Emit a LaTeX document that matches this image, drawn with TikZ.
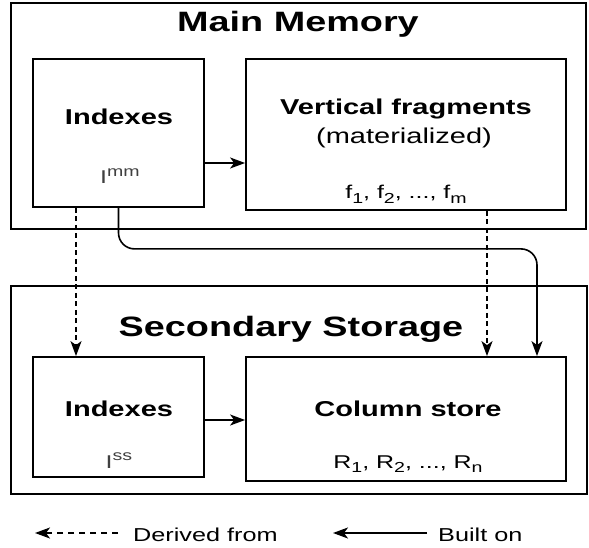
\documentclass[tikz,border=0pt]{standalone}
\usepackage{fontspec}
\setmainfont[FakeStretch=1.35]{Liberation Sans}
\usetikzlibrary{arrows.meta}

% sub- and superscripts set in the text font
\newcommand{\lowtxt}[1]{\raisebox{-0.22em}{\fontsize{14.5}{16}\selectfont #1}}
\newcommand{\hightxt}[1]{\raisebox{0.42em}{\fontsize{14.5}{16}\selectfont #1}}

\tikzset{
  region/.style={draw, line width=1.8pt, inner sep=0pt},
  box/.style={draw, line width=1.8pt, inner sep=0pt},
  title/.style={font=\bfseries\fontsize{28}{32}\selectfont, anchor=base, inner sep=0pt},
  label/.style={font=\bfseries\fontsize{21.5}{25}\selectfont, anchor=base, inner sep=0pt},
  plain/.style={font=\fontsize{21.5}{25}\selectfont, anchor=base, inner sep=0pt},
  items/.style={font=\fontsize{18.5}{22}\selectfont, anchor=base, inner sep=0pt},
  legendtxt/.style={font=\fontsize{18.7}{22}\selectfont, anchor=base west, inner sep=0pt},
  tip/.style={-{Stealth[length=15pt,width=11pt,inset=4pt]}},
  built/.style={tip, line width=1.6pt},
  derived/.style={tip, line width=1.6pt, dash pattern=on 5pt off 3.5pt},
}

\begin{document}
\begin{tikzpicture}[x=1pt, y=-1pt]
  \useasboundingbox (0,0) rectangle (589,548);

  % main memory
  \node[region, minimum width=575pt, minimum height=226pt] (mainmem) at (298.5,116) {};
  \node[title] (maintitle) at (298,32) {Main Memory};
  \node[box, minimum width=171pt, minimum height=148pt] (idxmm) at (118.5,133) {};
  \node[label] (idxmmlbl) at (119,125) {Indexes};
  \node[items, text=black!75] (imm) at (120,184) {I\hightxt{mm}};
  \node[box, minimum width=320pt, minimum height=151pt] (vf) at (406,134.5) {};
  \node[label] (vflbl) at (406,115) {Vertical fragments};
  \node[plain] (vfsub) at (404,144) {(materialized)};
  \node[items] (fset) at (406,199) {f\lowtxt{1}, f\lowtxt{2}, ..., f\lowtxt{m}};

  % secondary storage
  \node[region, minimum width=576pt, minimum height=208pt] (secstore) at (299,390) {};
  \node[title] (sectitle) at (291,336) {Secondary Storage};
  \node[box, minimum width=171pt, minimum height=120pt] (idxss) at (118.5,417) {};
  \node[label] (idxsslbl) at (119,416) {Indexes};
  \node[items, text=black!75] (iss) at (119,468) {I\hightxt{ss}};
  \node[box, minimum width=320pt, minimum height=124pt] (cs) at (406,419) {};
  \node[label] (cslbl) at (408,416) {Column store};
  \node[items] (rset) at (408,468) {R\lowtxt{1}, R\lowtxt{2}, ..., R\lowtxt{n}};

  % connectors
  \draw[built] ([yshift=-30pt]idxmm.east) -- ([yshift=-30pt]idxmm.east -| vf.west);
  \draw[built] ([yshift=-3pt]idxss.east) -- ([yshift=-3pt]idxss.east -| cs.west);
  \draw[derived] ([xshift=-42.5pt]idxmm.south) -- ([xshift=-42.5pt]idxmm.south |- idxss.north);
  \draw[derived] ([xshift=81pt]vf.south) -- ([xshift=81pt]vf.south |- cs.north);
  \draw[built, rounded corners=16pt] (idxmm.south) -- ++(0,41) -| ([xshift=131pt]cs.north);

  % legend
  \node[legendtxt] (derivedlbl) at (133,541) {Derived from};
  \node[legendtxt] (builtlbl) at (438,541) {Built on};
  \coordinate (dstart) at (118,533);
  \coordinate (dend) at (35,533);
  \coordinate (bstart) at (427,533);
  \coordinate (bend) at (333,533);
  \draw[derived, dash pattern=on 6pt off 5pt] (dstart) -- (dend);
  \draw[built] (bstart) -- (bend);
\end{tikzpicture}
\end{document}
